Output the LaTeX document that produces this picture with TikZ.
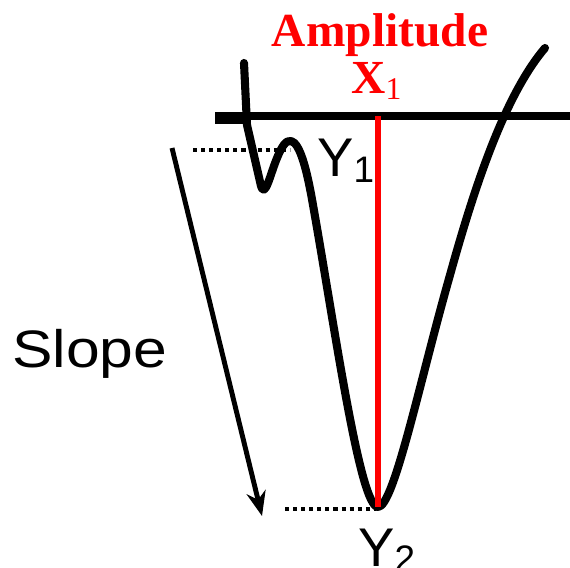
\documentclass[tikz,border=0pt]{standalone}
\usepackage{fontspec}
\setmainfont{Liberation Sans}
\newfontfamily\ampfont{Liberation Serif}
\usetikzlibrary{arrows.meta}
\tikzset{
  signal/.style={line width=4.6pt, line join=round, line cap=round},
  dotline/.style={line width=2.3pt, dash pattern=on 2.3pt off 2.3pt},
  lbl/.style={inner sep=0pt, font=\fontsize{31}{31}\selectfont},
  redlbl/.style={inner sep=0pt, red, font=\ampfont\bfseries\fontsize{27}{27}\selectfont}
}
\begin{document}
\begin{tikzpicture}[x=0.02cm, y=-0.02cm, >={Stealth[length=14pt,width=11pt]}]
    \useasboundingbox (0,0) rectangle (570,567);
    % Baseline
    \coordinate (bl) at (215,116);
    \coordinate (br) at (570,116);
    \draw[line width=4.5pt] (bl) -- (br);
    \draw[line width=6pt] (215,119) -- (245,119);
    % Signal
    \draw[signal] (244,63) -- (247,125) -- (261,186)
      .. controls (265,199) and (270,175) .. (277,158)
      .. controls (282,146) and (286,140) .. (291,141)
      .. controls (300,143) and (307,170) .. (313,205)
      .. controls (336,335) and (360,507) .. (378,507)
      .. controls (394,507) and (420,380) .. (450,275)
      .. controls (475,185) and (505,95) .. (545,48);
    % Amplitude
    \coordinate (amptop) at (378,116);
    \coordinate (ampbot) at (378,507);
    \draw[red, line width=3pt] (amptop) -- (ampbot);
    \node[redlbl, anchor=base] (amp) at (380,47) {Amplitude};
    \node[redlbl, anchor=base west] (xone) at (351,94) {X\raisebox{-3.4pt}{\mdseries\fontsize{18}{18}\selectfont 1}};
    % Y1 and Y2
    \coordinate (yonel) at (193,150);
    \coordinate (yoner) at (290,150);
    \draw[dotline] (yonel) -- (yoner);
    \node[lbl, anchor=base west] (yone) at (317,177) {Y\raisebox{-3pt}{\fontsize{21}{21}\selectfont 1}};
    \coordinate (ytwol) at (285,509);
    \coordinate (ytwor) at (376,509);
    \draw[dotline] (ytwol) -- (ytwor);
    \node[lbl, anchor=base west] (ytwo) at (358,566) {Y\raisebox{-3pt}{\fontsize{21}{21}\selectfont 2}};
    % Slope
    \coordinate (slopetop) at (172,148);
    \coordinate (slopebot) at (262,516);
    \draw[->, line width=2.8pt] (slopetop) -- (slopebot);
    \node[lbl, font=\fontsize{30}{30}\selectfont, xscale=1.15, anchor=base west] (slope) at (12,367) {Slope};
\end{tikzpicture}
\end{document}
